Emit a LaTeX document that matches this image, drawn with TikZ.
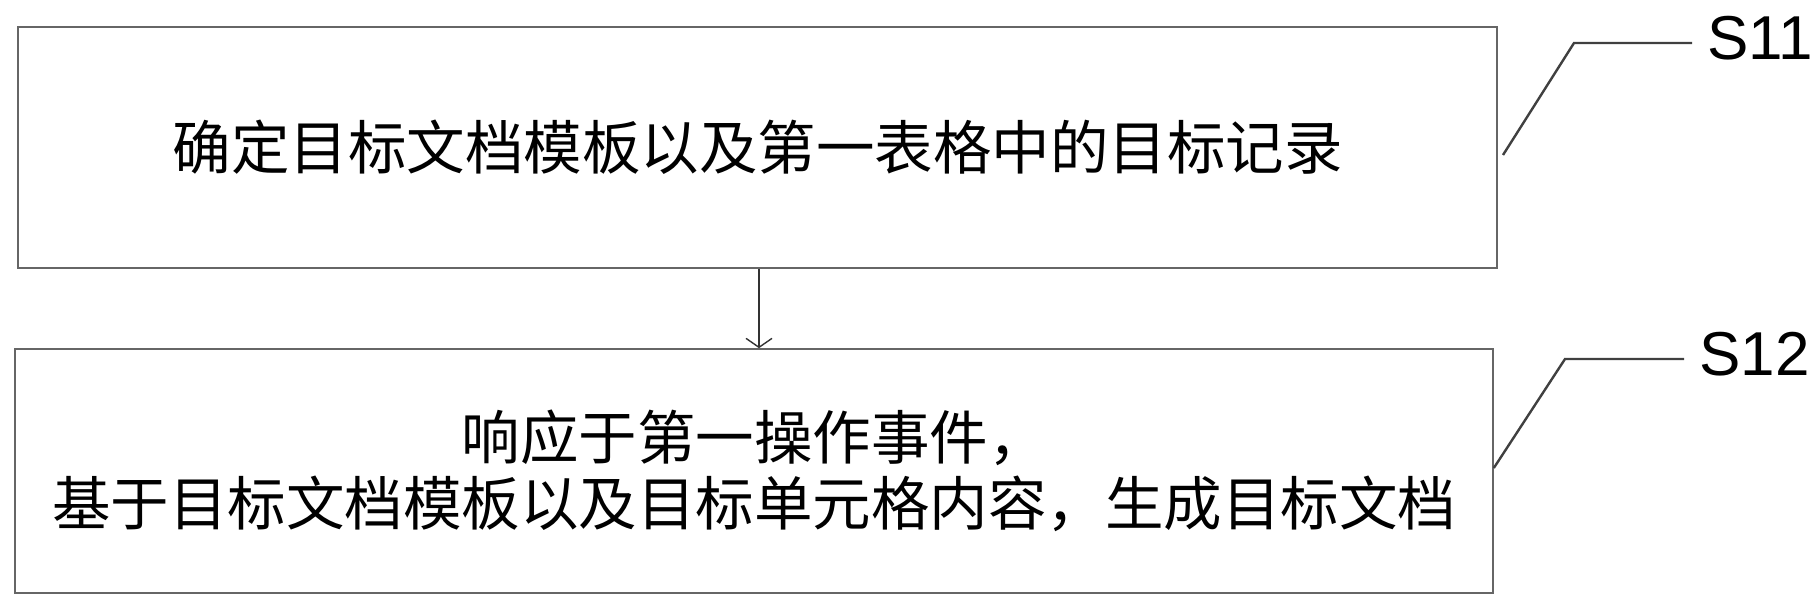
\documentclass[tikz,border=0pt]{standalone}
\usepackage{fontspec}
\setmainfont{Liberation Sans}
\newfontfamily\cjk{Noto Sans CJK SC}
\usetikzlibrary{arrows.meta, positioning}

\begin{document}
\begin{tikzpicture}[
        x=1pt, y=-1pt,
        stepbox/.style={rectangle, draw=black!60, line width=1.6pt, align=center,
            font=\cjk\fontsize{58.5}{66}\selectfont, inner sep=0pt},
        steplabel/.style={font=\fontsize{62}{62}\selectfont, inner xsep=15pt, inner ysep=0pt},
        leader/.style={draw=black!75, line width=2.4pt},
        arrow/.style={draw=black!80, line width=1.4pt, -{Straight Barb[length=9pt, width=26pt, line width=1.4pt]}}
    ]
    \useasboundingbox (0,0) rectangle (1817,609);

    \node[stepbox, minimum width=1479pt, minimum height=241pt] (box1) at (757.5,147.5)
        {确定目标文档模板以及第一表格中的目标记录};
    \node[stepbox, minimum width=1478pt, minimum height=244pt] (box2) at (754,471)
        {响应于第一操作事件，\\基于目标文档模板以及目标单元格内容，生成目标文档};

    \draw[arrow] (box1.south -| 759,0) -- (box2.north -| 759,0);

    % step labels
    \node[steplabel, anchor=base west] (s11) at (1692,60) {S11};
    \node[steplabel, anchor=base west] (s12) at (1684,375) {S12};
    \coordinate (k11) at (1574,43);
    \coordinate (k12) at (1565,359);
    \draw[leader] (1503,155) -- (k11) -- (k11 -| s11.west);
    \draw[leader] (box2.east |- 0,468) -- (k12) -- (k12 -| s12.west);
\end{tikzpicture}
\end{document}
